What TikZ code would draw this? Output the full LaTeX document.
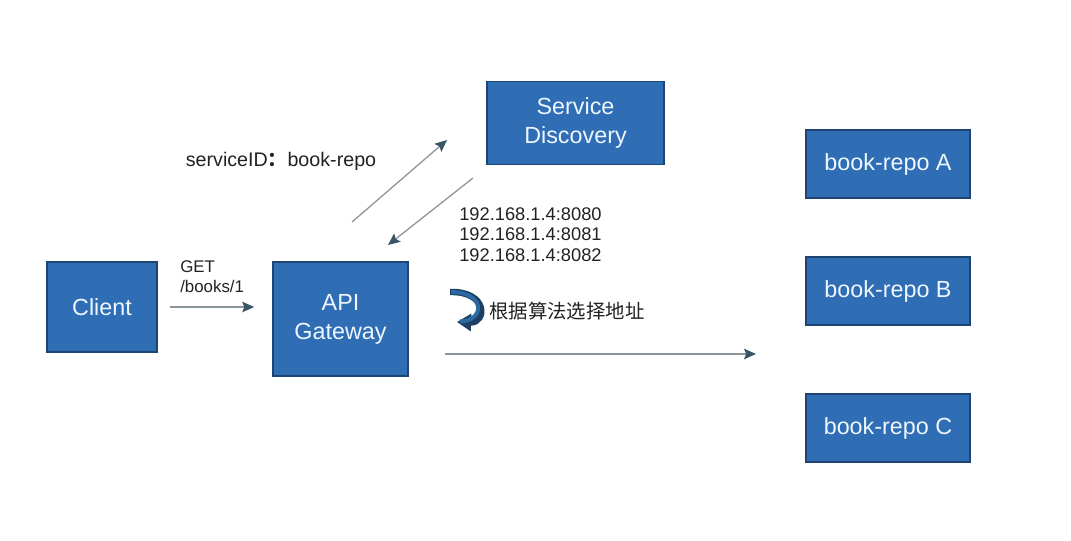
\documentclass[tikz,border=0pt]{standalone}
\usepackage{fontspec}
\setmainfont{Liberation Sans}
\newfontfamily\cjk{Noto Sans CJK SC}
\usetikzlibrary{arrows.meta}
\definecolor{boxfill}{HTML}{2F6DB5}
\definecolor{boxline}{HTML}{1E4471}
\definecolor{boxtext}{HTML}{EEF6FF}
\definecolor{arrline}{HTML}{8A959C}
\definecolor{arrtip}{HTML}{3A5566}
\definecolor{txt}{HTML}{222222}
\definecolor{iconblue}{HTML}{2D6AA3}
\definecolor{icondark}{HTML}{1C3F63}
\tikzset{
  box/.style={draw=boxline, line width=1.2pt, fill=boxfill, text=boxtext,
    align=center, inner sep=0pt, font=\fontsize{16.6}{20.5}\selectfont},
  conn/.style={draw=arrline, line width=0.9pt,
    -{Stealth[length=8.5pt, width=7.5pt, inset=1.5pt, color=arrtip]}},
  lbl/.style={text=txt, inner sep=0pt}
}
\begin{document}
\begin{tikzpicture}[x=0.025cm, y=-0.025cm]
\useasboundingbox[fill=white] (0,0) rectangle (1071,540);

\node[box, minimum width=2.75cm, minimum height=2.25cm] (client) at (102,307) {Client};
\node[box, minimum width=3.375cm, minimum height=2.85cm] (gw) at (340.5,319) {API\\Gateway};
\node[box, minimum width=4.425cm, minimum height=2.075cm] (sd) at (575.5,123) {Service\\Discovery};
\node[box, minimum width=4.1cm, minimum height=1.7cm] (ra) at (888,164) {book-repo A};
\node[box, minimum width=4.1cm, minimum height=1.7cm] (rb) at (888,291) {book-repo B};
\node[box, minimum width=4.1cm, minimum height=1.7cm] (rc) at (888,428) {book-repo C};

% connectors
\draw[conn, shorten <=12pt*0.71, shorten >=18pt*0.71] (client.east |- 0,307) coordinate (c1) -- (gw.west |- 0,307) coordinate (g1);
\coordinate (gwout1) at (352,222);
\coordinate (sdin1) at (447,140);
\draw[conn] (gwout1) -- (sdin1);
\coordinate (sdout1) at (473,178);
\coordinate (gwin1) at (388,245);
\draw[conn] (sdout1) -- (gwin1);
\coordinate (gwout2) at (445,354);
\coordinate (repoin) at (756,354);
\draw[conn] (gwout2) -- (repoin);

% labels
\node[lbl, font=\fontsize{14}{16}\selectfont] (sid) at (281,161) {serviceID{\cjk\bfseries ：}book-repo};
\node[lbl, anchor=north west, align=left, font=\fontsize{12}{14.2}\selectfont] (get) at (180,260) {GET\\/books/1};
\node[lbl, anchor=north west, align=left, font=\fontsize{13}{14.6}\selectfont] (ips) at (459,207) {192.168.1.4:8080\\192.168.1.4:8081\\192.168.1.4:8082};
\node[lbl, anchor=west, font=\cjk\fontsize{13.8}{16}\selectfont] (algo) at (489,311) {根据算法选择地址};

% curved icon
\draw[draw=icondark, line width=4.6pt, -{Triangle[length=10pt, width=12pt, color=icondark]}]
  (450,292) .. controls (488,291) and (487,323) .. (457,322);
\draw[draw=iconblue, line width=2.8pt]
  (451,292) .. controls (486,292) and (485,321) .. (460,321.5);
\end{tikzpicture}
\end{document}
